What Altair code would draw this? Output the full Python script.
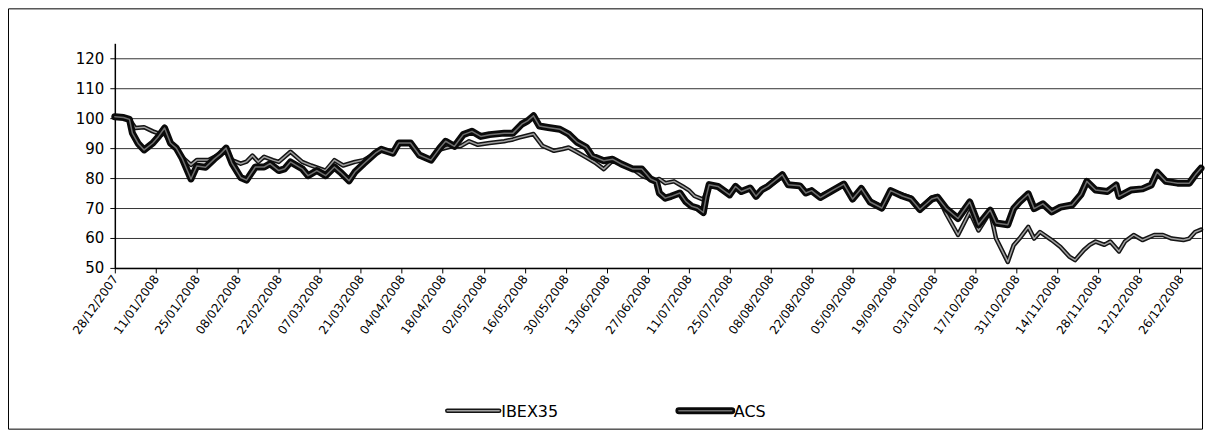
import altair as alt
import pandas as pd

series_names = ["IBEX35", "ACS"]

tick_dates = ["2007-12-28", "2008-01-11", "2008-01-25", "2008-02-08", "2008-02-22", "2008-03-07",
              "2008-03-21", "2008-04-04", "2008-04-18", "2008-05-02", "2008-05-16", "2008-05-30",
              "2008-06-13", "2008-06-27", "2008-07-11", "2008-07-25", "2008-08-08", "2008-08-22",
              "2008-09-05", "2008-09-19", "2008-10-03", "2008-10-17", "2008-10-31", "2008-11-14",
              "2008-11-28", "2008-12-12", "2008-12-26"]
x_range = ["2007-12-28", "2009-01-02"]
y_ticks = [50, 60, 70, 80, 90, 100, 110, 120]
y_range = [50, 125]

ibex_dates = ["2007-12-28", "2007-12-31", "2008-01-02", "2008-01-04", "2008-01-07", "2008-01-10", "2008-01-13", "2008-01-14", "2008-01-16", "2008-01-18",
              "2008-01-20", "2008-01-23", "2008-01-25", "2008-01-29", "2008-02-01", "2008-02-04", "2008-02-06", "2008-02-09", "2008-02-11", "2008-02-13",
              "2008-02-15", "2008-02-17", "2008-02-20", "2008-02-22", "2008-02-26", "2008-03-01", "2008-03-04", "2008-03-09", "2008-03-12", "2008-03-15",
              "2008-03-19", "2008-03-22", "2008-03-26", "2008-03-28", "2008-04-01", "2008-04-03", "2008-04-07", "2008-04-10", "2008-04-14", "2008-04-17",
              "2008-04-21", "2008-04-24", "2008-04-27", "2008-04-30", "2008-05-04", "2008-05-09", "2008-05-12", "2008-05-14", "2008-05-19", "2008-05-22",
              "2008-05-26", "2008-05-29", "2008-05-31", "2008-06-03", "2008-06-06", "2008-06-09", "2008-06-12", "2008-06-15", "2008-06-18", "2008-06-22",
              "2008-06-25", "2008-06-29", "2008-07-01", "2008-07-03", "2008-07-06", "2008-07-09", "2008-07-11", "2008-07-13", "2008-07-16", "2008-07-18",
              "2008-07-21", "2008-07-25", "2008-07-27", "2008-07-29", "2008-08-01", "2008-08-03", "2008-08-05", "2008-08-07", "2008-08-12", "2008-08-14",
              "2008-08-18", "2008-08-20", "2008-08-22", "2008-08-25", "2008-08-29", "2008-09-02", "2008-09-05", "2008-09-08", "2008-09-11", "2008-09-15",
              "2008-09-18", "2008-09-22", "2008-09-25", "2008-09-28", "2008-10-02", "2008-10-04", "2008-10-07", "2008-10-11", "2008-10-15", "2008-10-18",
              "2008-10-22", "2008-10-24", "2008-10-28", "2008-10-30", "2008-11-01", "2008-11-04", "2008-11-06", "2008-11-08", "2008-11-12", "2008-11-15",
              "2008-11-18", "2008-11-20", "2008-11-23", "2008-11-25", "2008-11-27", "2008-11-30", "2008-12-02", "2008-12-05", "2008-12-07", "2008-12-10",
              "2008-12-13", "2008-12-17", "2008-12-20", "2008-12-23", "2008-12-27", "2008-12-29", "2008-12-31", "2009-01-02"]
ibex_values = [100.5, 100.2, 99.6, 96.7, 97, 95.6, 94.5, 95, 91.7, 90,
               87, 84.4, 86, 86, 87.5, 90, 86, 84.8, 85.5, 87.5,
               85.4, 87.1, 86, 85.4, 88.8, 85.4, 84.2, 82.5, 86, 84.2,
               85.4, 86, 88.3, 89.6, 88.3, 91.7, 91.7, 87.7, 86, 89.5,
               90.6, 90.6, 92.3, 91.1, 91.7, 92.3, 92.9, 93.5, 94.7, 90.8,
               89.1, 89.7, 90.2, 88.6, 86.9, 85.2, 83, 85.8, 84.7, 83,
               80.8, 79.1, 79.7, 78.3, 78.9, 77.2, 76, 74, 72.8, 77.2,
               77, 75, 77, 75.8, 76.3, 74.5, 76.3, 77, 80.5, 78,
               77.6, 75.5, 76, 74, 76, 77.5, 73.5, 76, 72.5, 70.5,
               75.5, 74.5, 73.5, 70, 73.5, 74, 68, 61, 68.7, 62.5,
               68.7, 59.8, 52, 57.6, 59.8, 63.7, 59.8, 62, 59.3, 57,
               53.8, 52.6, 56, 57.7, 58.8, 57.7, 58.8, 55.5, 58.8, 61,
               59.3, 61, 61, 59.8, 59.3, 59.8, 62, 62.8]

acs_dates = ["2007-12-28", "2007-12-31", "2008-01-02", "2008-01-03", "2008-01-05", "2008-01-07", "2008-01-10", "2008-01-12", "2008-01-14", "2008-01-16",
             "2008-01-18", "2008-01-20", "2008-01-23", "2008-01-25", "2008-01-28", "2008-01-31", "2008-02-02", "2008-02-04", "2008-02-06", "2008-02-09",
             "2008-02-11", "2008-02-14", "2008-02-17", "2008-02-19", "2008-02-22", "2008-02-24", "2008-02-26", "2008-03-01", "2008-03-03", "2008-03-06",
             "2008-03-09", "2008-03-12", "2008-03-14", "2008-03-17", "2008-03-19", "2008-03-22", "2008-03-26", "2008-03-28", "2008-04-01", "2008-04-03",
             "2008-04-07", "2008-04-10", "2008-04-14", "2008-04-17", "2008-04-19", "2008-04-22", "2008-04-25", "2008-04-28", "2008-05-01", "2008-05-04",
             "2008-05-09", "2008-05-12", "2008-05-15", "2008-05-17", "2008-05-19", "2008-05-21", "2008-05-24", "2008-05-28", "2008-05-31", "2008-06-03",
             "2008-06-06", "2008-06-08", "2008-06-12", "2008-06-15", "2008-06-18", "2008-06-22", "2008-06-25", "2008-06-28", "2008-06-30", "2008-07-01",
             "2008-07-03", "2008-07-05", "2008-07-08", "2008-07-10", "2008-07-12", "2008-07-14", "2008-07-16", "2008-07-17", "2008-07-18", "2008-07-21",
             "2008-07-25", "2008-07-27", "2008-07-29", "2008-08-01", "2008-08-03", "2008-08-05", "2008-08-07", "2008-08-12", "2008-08-14", "2008-08-18",
             "2008-08-20", "2008-08-22", "2008-08-25", "2008-08-29", "2008-09-02", "2008-09-05", "2008-09-08", "2008-09-11", "2008-09-15", "2008-09-18",
             "2008-09-22", "2008-09-25", "2008-09-28", "2008-10-02", "2008-10-04", "2008-10-07", "2008-10-11", "2008-10-15", "2008-10-18", "2008-10-22",
             "2008-10-24", "2008-10-28", "2008-10-30", "2008-11-01", "2008-11-04", "2008-11-06", "2008-11-09", "2008-11-12", "2008-11-15", "2008-11-19",
             "2008-11-22", "2008-11-24", "2008-11-27", "2008-12-01", "2008-12-04", "2008-12-05", "2008-12-09", "2008-12-13", "2008-12-16", "2008-12-18",
             "2008-12-21", "2008-12-25", "2008-12-29", "2008-12-31", "2009-01-02"]
acs_values = [100.5, 100.2, 99.6, 95, 91.5, 89.4, 91.7, 94, 96.7, 91.7,
              90, 86.6, 79.7, 84, 83.6, 86.4, 88, 90, 85, 80.2,
              79.3, 83.7, 83.7, 84.8, 82.5, 83.1, 85.4, 83.1, 80.8, 82.5,
              80.8, 83.7, 82, 79.1, 82, 84.8, 88.3, 89.6, 88.3, 91.7,
              91.7, 87.7, 86, 90, 92.3, 90.6, 94.5, 95.6, 93.9, 94.5,
              95, 95, 98, 99.1, 100.8, 97.4, 96.9, 96.3, 94.7, 91.9,
              90.3, 87.4, 85.8, 86.3, 84.7, 83, 83, 79.7, 78.8, 75,
              73.3, 73.9, 75, 72.2, 70.6, 70, 68.5, 73.9, 77.8, 77.2,
              74.4, 77.2, 75.5, 76.7, 73.9, 76.1, 77.2, 81.1, 77.8, 77.4,
              75, 75.8, 73.5, 75.8, 78, 73, 76.5, 72, 70, 75.8,
              74, 73, 69.5, 73, 73.6, 69.8, 66.5, 72, 64.4, 69.3,
              65, 64.4, 69.8, 72, 74.7, 69.8, 71.4, 68.7, 70.3, 71,
              74.5, 78.9, 76, 75.5, 77.7, 73.9, 76, 76.4, 77.7, 82,
              78.9, 78.3, 78.3, 81, 83.3]


def ms(s):
    return int(pd.Timestamp(s, tz="UTC").value // 10**6)


df_ibex = pd.DataFrame({"date": ibex_dates, "value": ibex_values})
df_acs = pd.DataFrame({"date": acs_dates, "value": acs_values})
one = pd.DataFrame({"k": [0]})

FONT = "DejaVu Sans"
tick_ms = [ms(t) for t in tick_dates]
x_scale = alt.Scale(type="utc", domain=[ms(x_range[0]), ms(x_range[1])], nice=False)
y_scale = alt.Scale(domain=y_range, nice=False, zero=False)


def make_x_axis():
    return alt.Axis(
        values=tick_ms, labelExpr="utcFormat(datum.value, '%d/%m/%Y')",
        labelAngle=305, labelAlign="right", labelBaseline="middle", labelPadding=3,
        labelFont=FONT, labelFontSize=12, labelColor="black", labelOverlap=False,
        labelFlush=False, labelBound=False, tickSize=5, tickColor="black",
        domainColor="black", domainWidth=1.5, grid=False, title=None,
    )


def make_y_axis():
    return alt.Axis(
        values=y_ticks, grid=True, gridColor="#333333", gridWidth=1,
        domainColor="black", domainWidth=1.5, tickColor="black", tickSize=5,
        labelFont=FONT, labelFontSize=15, labelColor="black", labelPadding=6,
        labelOverlap=False, title=None,
    )


def line(df, color, width):
    return alt.Chart(df).mark_line(
        color=color, strokeWidth=width, strokeJoin="round", strokeCap="round"
    ).encode(
        x=alt.X("date:T", scale=x_scale, axis=make_x_axis()),
        y=alt.Y("value:Q", scale=y_scale, axis=make_y_axis()),
    )


ibex_outer = line(df_ibex, "#151515", 4.5)
ibex_inner = line(df_ibex, "#a0a0a0", 1.5)
acs_outer = line(df_acs, "#0a0a0a", 7)
acs_inner = line(df_acs, "#6e6e6e", 1.5)


def leg_rule(x1, x2, color, width):
    return alt.Chart(one).mark_rule(color=color, strokeWidth=width, strokeCap="round").encode(
        x=alt.value(x1), x2=alt.value(x2), y=alt.value(368)
    )


def leg_text(x, label):
    return alt.Chart(one).mark_text(
        align="left", baseline="middle", font=FONT, fontSize=16, color="black"
    ).encode(x=alt.value(x), y=alt.value(369), text=alt.value(label))


frame = alt.Chart(one).mark_rect(fill="transparent", stroke="black", strokeWidth=1).encode(
    x=alt.value(-106.5), x2=alt.value(1089.5), y=alt.value(-34.5), y2=alt.value(386.5)
)

chart = alt.layer(
    ibex_outer, ibex_inner, acs_outer, acs_inner,
    frame,
    leg_rule(333, 385, "#151515", 4.5), leg_rule(333, 385, "#a0a0a0", 1.5),
    leg_text(387, series_names[0]),
    leg_rule(565, 618, "#0a0a0a", 7), leg_rule(565, 618, "#6e6e6e", 1.5),
    leg_text(620, series_names[1]),
).properties(
    width=1088, height=225, background="white",
    autosize=alt.AutoSizeParams(type="none"),
    padding={"left": 107, "top": 35, "right": 4, "bottom": 165},
).configure_view(stroke="transparent")

chart.save("out.html", embed_options={"renderer": "svg", "actions": False})
